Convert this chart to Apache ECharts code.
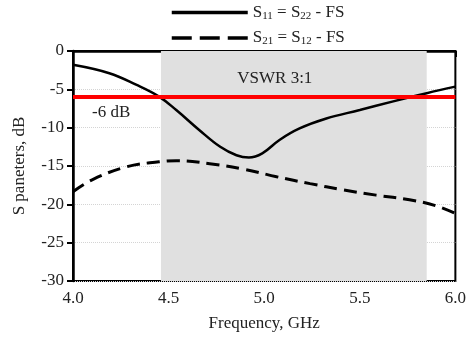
<!DOCTYPE html>
<html>
<head>
<meta charset="utf-8">
<script src="https://cdn.jsdelivr.net/npm/echarts@6/dist/echarts.min.js"></script>
<style>
  html, body { margin: 0; padding: 0; background: #fff; }
  #main { width: 469px; height: 340px; }
</style>
</head>
<body>
<div id="main"></div>
<script>
// S-parameters (frequency in GHz, level in dB)
const s11Freq = [4.0, 4.19, 4.33, 4.45, 4.54, 4.66, 4.77, 4.855, 4.92, 4.99, 5.08, 5.185, 5.325, 5.5, 5.67, 5.85, 6.0];
const s11Db   = [-1.8, -2.9, -4.4, -5.95, -7.7, -10.3, -12.5, -13.6, -13.9, -13.35, -11.6, -10.1, -8.8, -7.7, -6.6, -5.5, -4.65];
const s21Freq = [4.0, 4.1, 4.28, 4.45, 4.54, 4.715, 4.89, 5.065, 5.24, 5.41, 5.585, 5.76, 5.9, 6.0];
const s21Db   = [-18.35, -16.8, -15.1, -14.45, -14.3, -14.7, -15.4, -16.4, -17.3, -18.1, -18.8, -19.4, -20.2, -21.2];
const bandEdges = [4.46, 5.85];   // VSWR 3:1 band
const thresholdDb = -6;
const xTicks = [4.0, 4.5, 5.0, 5.5, 6.0];
const yTicks = [0, -5, -10, -15, -20, -25, -30];

const serif = "Liberation Serif";
const ink = "#222";
const pairs = (xs, ys) => xs.map((x, i) => [x, ys[i]]);

const chart = echarts.init(document.getElementById("main"));
const legendText = {
    "S11": "{m|S}{s|11}{m| = S}{s|22}{m| - FS}",
    "S21": "{m|S}{s|21}{m| = S}{s|12}{m| - FS}",
};
const hidden = { color: "rgba(0,0,0,0)", borderColor: "rgba(0,0,0,0)", borderWidth: 0 };

chart.setOption({
    animation: false,
    textStyle: { fontFamily: serif },
    legend: {
        data: [
            { name: "S11", itemStyle: hidden, lineStyle: { color: "#000", width: 3.5, type: "solid" } },
            { name: "S21", itemStyle: hidden, lineStyle: { color: "#000", width: 3.5, type: [20, 8] } },
        ],
        orient: "vertical",
        left: 165,
        top: -1,
        itemWidth: 76,
        itemHeight: 14,
        itemGap: 8,
        formatter: (name) => legendText[name],
        textStyle: {
            rich: {
                m: { fontFamily: serif, fontSize: 17, color: ink },
                s: { fontFamily: serif, fontSize: 11, color: ink, padding: [7, 0, 0, 0] },
            },
        },
    },
    grid: {
        left: 73, right: 13, top: 51, bottom: 59,
        show: true, borderColor: "#000", borderWidth: 2,
    },
    xAxis: {
        type: "value",
        min: xTicks[0], max: xTicks[xTicks.length - 1], interval: 0.5,
        name: "Frequency, GHz",
        nameLocation: "middle",
        nameGap: 34,
        nameTextStyle: { fontFamily: serif, fontSize: 17, color: ink },
        axisLine: { lineStyle: { color: "#000", width: 2.5 } },
        axisTick: { length: 6, lineStyle: { color: "#000", width: 2 } },
        axisLabel: { fontFamily: serif, fontSize: 17, color: ink, margin: 9, formatter: (v) => v.toFixed(1) },
        splitLine: { show: false },
    },
    yAxis: {
        type: "value",
        min: yTicks[yTicks.length - 1], max: yTicks[0], interval: 5,
        name: "S paneters, dB",
        nameLocation: "middle",
        nameGap: 45,
        nameTextStyle: { fontFamily: serif, fontSize: 17, color: ink },
        axisLine: { lineStyle: { color: "#000", width: 2.5 } },
        axisTick: { length: 6, lineStyle: { color: "#000", width: 2 } },
        axisLabel: { fontFamily: serif, fontSize: 17, color: ink, margin: 9 },
        splitLine: { show: true, lineStyle: { color: "#d4d4d4", type: "dotted", width: 1 } },
    },
    series: [
        {
            name: "band",
            type: "line",
            data: [],
            markArea: {
                silent: true,
                itemStyle: { color: "#e0e0e0" },
                label: {
                    show: true, position: "insideTop", distance: 19, offset: [-19, 0],
                    fontFamily: serif, fontSize: 17, color: ink,
                },
                data: [[{ xAxis: bandEdges[0], name: "VSWR 3:1" }, { xAxis: bandEdges[1] }]],
            },
        },
        {
            name: "S11",
            type: "line",
            smooth: 0.4,
            symbol: "none",
            z: 3,
            lineStyle: { color: "#000", width: 2.5 },
            itemStyle: { color: "#000" },
            data: pairs(s11Freq, s11Db),
        },
        {
            name: "S21",
            type: "line",
            smooth: 0.4,
            symbol: "none",
            z: 3,
            lineStyle: { color: "#000", width: 3, type: [13, 7] },
            itemStyle: { color: "#000" },
            data: pairs(s21Freq, s21Db),
        },
        {
            name: "threshold",
            type: "line",
            data: [],
            z: 5,
            markLine: {
                silent: true,
                symbol: "none",
                lineStyle: { color: "#ff0000", width: 4, type: "solid" },
                label: {
                    show: true, position: "insideStartBottom", distance: [19, 7],
                    formatter: "-6 dB", fontFamily: serif, fontSize: 17, color: ink,
                },
                data: [{ yAxis: thresholdDb }],
            },
        },
    ],
});
</script>
</body>
</html>
